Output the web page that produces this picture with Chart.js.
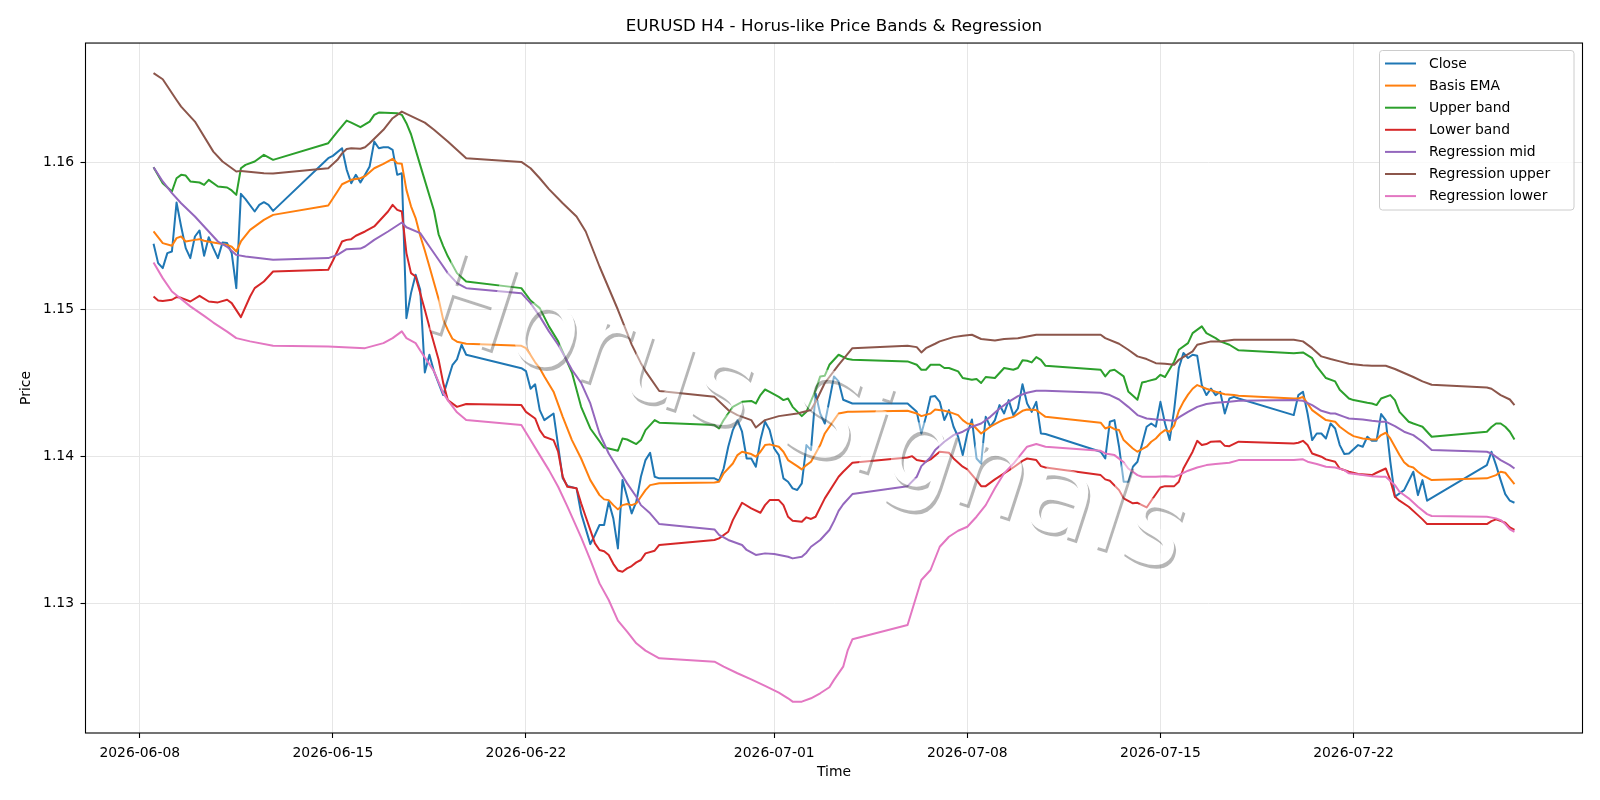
<!DOCTYPE html>
<html><head><meta charset="utf-8">
<script src="https://cdn.jsdelivr.net/npm/chart.js@4.4.1/dist/chart.umd.min.js"></script>
<style>html,body{margin:0;padding:0;background:#fff}canvas{display:block}</style>
</head><body>
<canvas id="c" width="1600" height="800"></canvas>
<script>
const chartTitle = "EURUSD H4 - Horus-like Price Bands & Regression";
const xAxisTitle = "Time";
const yAxisTitle = "Price";
const watermarkText = "Horus Signals";
const xTickDates = ["06-08 00","06-15 00","06-22 00","07-01 00","07-08 00","07-15 00","07-22 00"];
const xTickLabels = ["2026-06-08","2026-06-15","2026-06-22","2026-07-01","2026-07-08","2026-07-15","2026-07-22"];
const yTickValues = [1.13, 1.14, 1.15, 1.16];
const yLimits = [1.1212, 1.1681];
const seriesNames = ["Close","Basis EMA","Upper band","Lower band","Regression mid","Regression upper","Regression lower"];
const seriesColors = ["#1f77b4","#ff7f0e","#2ca02c","#d62728","#9467bd","#8c564b","#e377c2"];

const closeSeries = [["06-08 12",1.15445],["06-08 16",1.15314],["06-08 20",1.1528],["06-09 00",1.15382],["06-09 04",1.15393],["06-09 08",1.15726],["06-09 12",1.15563],["06-09 16",1.15416],["06-09 20",1.15348],["06-10 00",1.15495],["06-10 04",1.15536],["06-10 08",1.15364],["06-10 12",1.1549],["06-10 16",1.15416],["06-10 20",1.15348],["06-11 00",1.15454],["06-11 04",1.1545],["06-11 08",1.15382],["06-11 12",1.15144],["06-11 16",1.15785],["06-11 20",1.15749],["06-12 04",1.15665],["06-12 08",1.1571],["06-12 12",1.15728],["06-12 16",1.1571],["06-12 20",1.15669],
["06-14 20",1.16027],["06-15 00",1.16043],["06-15 08",1.16095],["06-15 12",1.1595],["06-15 16",1.15857],["06-15 20",1.15914],["06-16 00",1.15862],["06-16 04",1.15914],["06-16 08",1.15971],["06-16 12",1.1614],["06-16 16",1.16095],["06-16 20",1.16102],["06-17 00",1.16102],["06-17 04",1.16084],["06-17 08",1.15914],["06-17 12",1.15925],["06-17 16",1.1494],["06-17 20",1.1511],["06-18 00",1.15235],["06-18 04",1.15133],["06-18 08",1.14571],["06-18 12",1.14691],["06-18 16",1.14578],["06-19 00",1.14417],["06-19 08",1.1462],["06-19 12",1.1466],["06-19 16",1.14759],["06-19 20",1.14691],
["06-21 20",1.146],["06-22 00",1.1458],["06-22 04",1.1446],["06-22 08",1.1449],["06-22 12",1.14315],["06-22 16",1.14247],["06-23 00",1.14292],["06-23 08",1.13851],["06-23 12",1.138],["06-23 20",1.13783],["06-24 00",1.13613],["06-24 08",1.13404],["06-24 12",1.13466],["06-24 16",1.13534],["06-24 20",1.13534],["06-25 00",1.13692],["06-25 04",1.13579],["06-25 08",1.13375],["06-25 12",1.13839],["06-25 16",1.13726],["06-25 20",1.13613],["06-26 00",1.13692],["06-26 04",1.13862],["06-26 08",1.13975],["06-26 12",1.14025],["06-26 16",1.13862],["06-26 20",1.13851],
["06-28 20",1.13851],["06-29 00",1.13835],["06-29 04",1.13918],["06-29 08",1.14066],["06-29 12",1.14179],["06-29 16",1.14247],["06-29 20",1.14168],["06-30 00",1.13986],["06-30 04",1.13986],["06-30 08",1.1393],["06-30 12",1.14111],["06-30 16",1.14236],["06-30 20",1.14179],["07-01 00",1.14054],["07-01 04",1.14009],["07-01 08",1.13851],["07-01 12",1.13828],["07-01 16",1.13783],["07-01 20",1.13772],["07-02 00",1.13817],["07-02 04",1.14077],["07-02 08",1.14043],["07-02 12",1.14428],["07-02 16",1.14292],["07-02 20",1.14224],["07-03 00",1.14383],["07-03 04",1.14544],["07-03 08",1.1451],["07-03 12",1.14385],["07-03 20",1.1436],
["07-05 20",1.1436],["07-06 04",1.14303],["07-06 08",1.14156],["07-06 12",1.14269],["07-06 16",1.14405],["07-06 20",1.1441],["07-07 00",1.14371],["07-07 04",1.14247],["07-07 08",1.14315],["07-07 12",1.14202],["07-07 16",1.14134],["07-07 20",1.14009],["07-08 00",1.14156],["07-08 04",1.14251],["07-08 08",1.13986],["07-08 12",1.13952],["07-08 16",1.14269],["07-08 20",1.14202],["07-09 00",1.14247],["07-09 04",1.14349],["07-09 08",1.14292],["07-09 12",1.14383],["07-09 16",1.14281],["07-09 20",1.14326],["07-10 00",1.14491],["07-10 04",1.1436],["07-10 08",1.14303],["07-10 12",1.14371],["07-10 16",1.14156],["07-10 20",1.14152],
["07-12 20",1.14032],["07-13 00",1.13986],["07-13 04",1.14236],["07-13 08",1.14247],["07-13 12",1.14066],["07-13 16",1.13828],["07-13 20",1.13828],["07-14 00",1.1393],["07-14 04",1.13964],["07-14 12",1.14202],["07-14 16",1.14224],["07-14 20",1.14202],["07-15 00",1.14371],["07-15 04",1.14224],["07-15 08",1.14111],["07-15 12",1.1432],["07-15 16",1.146],["07-15 20",1.14703],["07-16 00",1.14669],["07-16 04",1.14691],["07-16 08",1.14684],["07-16 12",1.14485],["07-16 16",1.14417],["07-16 20",1.14462],["07-17 00",1.14417],["07-17 04",1.1444],["07-17 08",1.14292],["07-17 12",1.14394],["07-17 16",1.14405],["07-17 20",1.14394],
["07-19 20",1.14281],["07-20 00",1.14417],["07-20 04",1.1444],["07-20 08",1.14292],["07-20 12",1.14111],["07-20 16",1.14156],["07-20 20",1.14156],["07-21 00",1.14122],["07-21 04",1.14224],["07-21 08",1.1419],["07-21 12",1.14077],["07-21 16",1.14016],["07-21 20",1.1402],["07-22 04",1.14077],["07-22 08",1.14066],["07-22 12",1.14134],["07-22 16",1.14106],["07-22 20",1.14106],["07-23 00",1.14288],["07-23 04",1.14247],["07-23 08",1.13964],["07-23 12",1.13726],["07-23 16",1.13749],["07-23 20",1.13771],["07-24 04",1.13896],["07-24 08",1.13737],["07-24 12",1.13839],["07-24 16",1.13699],
["07-26 20",1.13941],["07-27 00",1.14032],["07-27 04",1.13941],["07-27 08",1.13839],["07-27 12",1.13744],["07-27 16",1.13699],["07-27 20",1.13685]];

const basisEma = [["06-08 12",1.15529],["06-08 20",1.1545],["06-09 04",1.15432],["06-09 08",1.15484],["06-09 12",1.15495],["06-09 16",1.15461],["06-10 00",1.15472],["06-10 04",1.15477],["06-10 08",1.15466],["06-10 16",1.15454],["06-11 04",1.15438],["06-11 08",1.15425],["06-11 12",1.15393],["06-11 16",1.15461],["06-12 00",1.1554],["06-12 12",1.15608],["06-12 20",1.15642],
["06-14 20",1.15706],["06-15 04",1.15801],["06-15 08",1.1585],["06-15 16",1.1588],["06-16 00",1.15891],["06-16 04",1.15905],["06-16 12",1.15959],["06-16 20",1.15989],["06-17 04",1.16023],["06-17 08",1.15993],["06-17 12",1.15989],["06-17 16",1.15812],["06-17 20",1.157],["06-18 00",1.1562],["06-18 04",1.155],["06-18 08",1.154],["06-18 12",1.15291],["06-18 16",1.1518],["06-18 20",1.1507],["06-19 00",1.1493],["06-19 04",1.1486],["06-19 08",1.148],["06-19 12",1.1478],["06-19 20",1.14766],
["06-21 20",1.14752],["06-22 00",1.14736],["06-22 04",1.1469],["06-22 08",1.1464],["06-22 12",1.146],["06-22 16",1.14544],["06-23 00",1.1444],["06-23 08",1.14269],["06-23 16",1.14111],["06-24 00",1.13986],["06-24 08",1.13839],["06-24 16",1.13737],["06-24 20",1.13708],["06-25 00",1.13703],["06-25 04",1.13669],["06-25 08",1.1364],["06-25 12",1.13669],["06-25 16",1.13676],["06-25 20",1.13669],["06-26 00",1.13681],["06-26 04",1.13726],["06-26 08",1.13771],["06-26 12",1.13805],["06-26 20",1.13817],
["06-28 20",1.13823],["06-29 00",1.13828],["06-29 04",1.13885],["06-29 12",1.13952],["06-29 16",1.14009],["06-29 20",1.14032],["06-30 04",1.14016],["06-30 08",1.13998],["06-30 12",1.14032],["06-30 16",1.14077],["06-30 20",1.14082],["07-01 04",1.14066],["07-01 08",1.14032],["07-01 12",1.13975],["07-01 20",1.13934],["07-02 00",1.13912],["07-02 04",1.13941],["07-02 08",1.13964],["07-02 16",1.14077],["07-02 20",1.14156],["07-03 04",1.14247],["07-03 08",1.14292],["07-03 16",1.14303],["07-03 20",1.14303],
["07-05 20",1.1431],["07-06 04",1.14292],["07-06 08",1.14274],["07-06 16",1.14292],["07-06 20",1.14319],["07-07 04",1.1431],["07-07 08",1.14303],["07-07 16",1.14281],["07-07 20",1.14247],["07-08 00",1.14224],["07-08 04",1.1422],["07-08 12",1.14156],["07-08 16",1.14179],["07-08 20",1.14202],["07-09 04",1.14236],["07-09 08",1.14251],["07-09 16",1.14269],["07-10 00",1.1431],["07-10 04",1.14319],["07-10 12",1.14315],["07-10 16",1.14292],["07-10 20",1.14269],
["07-12 20",1.14229],["07-13 00",1.1419],["07-13 04",1.14202],["07-13 08",1.14185],["07-13 12",1.14179],["07-13 16",1.14111],["07-14 00",1.14054],["07-14 04",1.14032],["07-14 12",1.14066],["07-14 16",1.141],["07-14 20",1.14122],["07-15 00",1.14156],["07-15 04",1.14179],["07-15 08",1.14168],["07-15 12",1.1421],["07-15 16",1.1431],["07-15 20",1.14371],["07-16 00",1.1442],["07-16 04",1.1446],["07-16 08",1.14485],["07-16 12",1.14473],["07-16 16",1.1446],["07-17 00",1.1444],["07-17 08",1.14423],["07-17 16",1.14417],["07-17 20",1.14412],
["07-19 20",1.14394],["07-20 00",1.14394],["07-20 04",1.14405],["07-20 08",1.1436],["07-20 12",1.14315],["07-20 20",1.14269],["07-21 00",1.14247],["07-21 08",1.14236],["07-21 12",1.14202],["07-21 20",1.14156],["07-22 00",1.14138],["07-22 08",1.14122],["07-22 16",1.14115],["07-22 20",1.14115],["07-23 00",1.14145],["07-23 04",1.14161],["07-23 08",1.14122],["07-23 12",1.14066],["07-23 16",1.1401],["07-23 20",1.1396],["07-24 00",1.13934],["07-24 04",1.13925],["07-24 08",1.13896],["07-24 12",1.13873],["07-24 20",1.13839],
["07-26 20",1.13851],["07-27 04",1.13873],["07-27 08",1.13896],["07-27 12",1.13889],["07-27 16",1.13851],["07-27 20",1.13812]];

const upperBand = [["06-08 12",1.15966],["06-08 20",1.15857],["06-09 04",1.15801],["06-09 08",1.15891],["06-09 12",1.15914],["06-09 16",1.15909],["06-09 20",1.15869],["06-10 04",1.15862],["06-10 08",1.15846],["06-10 12",1.1588],["06-10 20",1.15835],["06-11 04",1.15828],["06-11 08",1.15808],["06-11 12",1.15778],["06-11 16",1.15959],["06-11 20",1.15982],["06-12 04",1.16005],["06-12 12",1.1605],["06-12 20",1.16016],
["06-14 20",1.16129],["06-15 04",1.16208],["06-15 12",1.16283],["06-15 16",1.16269],["06-16 00",1.16238],["06-16 08",1.16276],["06-16 12",1.16322],["06-16 16",1.16337],["06-17 08",1.16333],["06-17 12",1.16322],["06-17 16",1.16265],["06-17 20",1.1619],["06-18 04",1.1598],["06-18 16",1.1567],["06-18 20",1.1551],["06-19 00",1.1543],["06-19 04",1.1536],["06-19 12",1.15246],["06-19 20",1.15189],
["06-21 20",1.15144],["06-22 04",1.1506],["06-22 12",1.15008],["06-22 20",1.14884],["06-23 04",1.14782],["06-23 16",1.1457],["06-24 00",1.14337],["06-24 08",1.1419],["06-24 20",1.1406],["06-25 00",1.14054],["06-25 08",1.14039],["06-25 12",1.14122],["06-25 16",1.14115],["06-26 00",1.14084],["06-26 04",1.14111],["06-26 08",1.14179],["06-26 16",1.14247],["06-26 20",1.14229],
["06-28 20",1.14213],["06-29 00",1.1419],["06-29 04",1.14247],["06-29 12",1.14337],["06-29 20",1.14371],["06-30 04",1.14377],["06-30 08",1.1436],["06-30 12",1.14417],["06-30 16",1.14455],["06-30 20",1.14439],["07-01 04",1.14405],["07-01 08",1.14383],["07-01 12",1.14394],["07-01 16",1.14337],["07-02 00",1.14274],["07-02 04",1.14303],["07-02 12",1.14451],["07-02 16",1.14544],["07-02 20",1.14549],["07-03 00",1.14623],["07-03 08",1.14691],["07-03 16",1.14662],["07-03 20",1.14657],
["07-05 20",1.14646],["07-06 04",1.14623],["07-06 08",1.14589],["07-06 12",1.14589],["07-06 16",1.14623],["07-07 00",1.14623],["07-07 04",1.14601],["07-07 08",1.14601],["07-07 16",1.14578],["07-07 20",1.14533],["07-08 04",1.14521],["07-08 08",1.14526],["07-08 12",1.14499],["07-08 16",1.1454],["07-09 00",1.14533],["07-09 04",1.14567],["07-09 08",1.14601],["07-09 16",1.14589],["07-09 20",1.14601],["07-10 00",1.14653],["07-10 04",1.1465],["07-10 08",1.14639],["07-10 12",1.14675],["07-10 16",1.14657],["07-10 20",1.14616],
["07-12 20",1.14589],["07-13 00",1.14544],["07-13 04",1.14582],["07-13 08",1.14589],["07-13 16",1.14544],["07-13 20",1.14442],["07-14 04",1.14385],["07-14 08",1.14503],["07-14 12",1.1451],["07-14 20",1.14526],["07-15 00",1.14555],["07-15 04",1.1454],["07-15 12",1.14646],["07-15 16",1.14725],["07-16 00",1.1477],["07-16 04",1.14838],["07-16 12",1.14884],["07-16 16",1.14838],["07-17 00",1.14804],["07-17 04",1.14782],["07-17 12",1.14759],["07-17 20",1.14721],
["07-19 20",1.14702],["07-20 04",1.14707],["07-20 12",1.14668],["07-20 16",1.14612],["07-21 00",1.14533],["07-21 08",1.1451],["07-21 12",1.14453],["07-21 20",1.14394],["07-22 00",1.14383],["07-22 12",1.14365],["07-22 16",1.1436],["07-22 20",1.14349],["07-23 00",1.14394],["07-23 08",1.14417],["07-23 12",1.14383],["07-23 16",1.14303],["07-24 00",1.14236],["07-24 04",1.14224],["07-24 08",1.14213],["07-24 12",1.14202],["07-24 16",1.14168],["07-24 20",1.14134],
["07-26 20",1.14168],["07-27 00",1.142],["07-27 04",1.14224],["07-27 08",1.14224],["07-27 12",1.14202],["07-27 16",1.14168],["07-27 20",1.14115]];

const lowerBand = [["06-08 12",1.15087],["06-08 16",1.1506],["06-08 20",1.15056],["06-09 04",1.15065],["06-09 08",1.15083],["06-09 12",1.15078],["06-09 20",1.15053],["06-10 04",1.15092],["06-10 12",1.15053],["06-10 20",1.15047],["06-11 04",1.15065],["06-11 08",1.15042],["06-11 16",1.14947],["06-12 00",1.15087],["06-12 04",1.15144],["06-12 12",1.15189],["06-12 20",1.15257],
["06-14 20",1.15269],["06-15 00",1.1533],["06-15 08",1.15461],["06-15 12",1.15472],["06-15 16",1.15477],["06-15 20",1.155],["06-16 04",1.15529],["06-16 12",1.15563],["06-16 16",1.15597],["06-17 00",1.15665],["06-17 04",1.1571],["06-17 08",1.15676],["06-17 12",1.15665],["06-17 16",1.15382],["06-17 20",1.15246],["06-18 00",1.15223],["06-18 08",1.14997],["06-18 12",1.1488],["06-18 20",1.14657],["06-19 00",1.145],["06-19 04",1.14383],["06-19 12",1.14337],["06-19 20",1.14356],
["06-21 20",1.14349],["06-22 00",1.14303],["06-22 08",1.14258],["06-22 12",1.14179],["06-22 16",1.14134],["06-23 00",1.14111],["06-23 04",1.14032],["06-23 08",1.13862],["06-23 12",1.13794],["06-23 20",1.13783],["06-24 00",1.13681],["06-24 04",1.1359],["06-24 12",1.13409],["06-24 16",1.13364],["06-24 20",1.13355],["06-25 00",1.1333],["06-25 04",1.1327],["06-25 08",1.13225],["06-25 12",1.13216],["06-25 16",1.13239],["06-25 20",1.13255],["06-26 00",1.1328],["06-26 04",1.13296],["06-26 08",1.13341],["06-26 16",1.13359],["06-26 20",1.13398],
["06-28 20",1.13432],["06-29 00",1.13443],["06-29 08",1.13488],["06-29 12",1.13567],["06-29 20",1.13685],["06-30 04",1.13647],["06-30 12",1.13617],["06-30 16",1.13669],["06-30 20",1.13703],["07-01 04",1.13703],["07-01 08",1.13669],["07-01 12",1.1359],["07-01 16",1.13563],["07-02 00",1.13556],["07-02 04",1.13586],["07-02 08",1.13575],["07-02 12",1.1359],["07-02 20",1.13715],["07-03 08",1.13862],["07-03 12",1.13896],["07-03 20",1.13957],
["07-05 20",1.13993],["07-06 00",1.14002],["07-06 04",1.13975],["07-06 12",1.13964],["07-06 16",1.1398],["07-07 00",1.14032],["07-07 08",1.14025],["07-07 12",1.13986],["07-07 20",1.1393],["07-08 00",1.13912],["07-08 08",1.13839],["07-08 12",1.13798],["07-08 16",1.13798],["07-09 00",1.13844],["07-09 08",1.13885],["07-09 16",1.13925],["07-10 00",1.1397],["07-10 04",1.13986],["07-10 12",1.13975],["07-10 16",1.13934],["07-10 20",1.13925],
["07-12 20",1.13873],["07-13 00",1.13844],["07-13 04",1.13835],["07-13 12",1.13771],["07-13 16",1.13715],["07-14 00",1.13681],["07-14 04",1.13685],["07-14 08",1.13669],["07-14 12",1.13653],["07-14 16",1.13699],["07-15 00",1.13789],["07-15 04",1.13798],["07-15 12",1.13798],["07-15 16",1.13828],["07-15 20",1.13918],["07-16 04",1.14032],["07-16 08",1.14106],["07-16 12",1.14077],["07-16 16",1.14084],["07-16 20",1.141],["07-17 04",1.14104],["07-17 08",1.14072],["07-17 12",1.1407],["07-17 20",1.141],
["07-19 20",1.14088],["07-20 00",1.14093],["07-20 04",1.14106],["07-20 08",1.14077],["07-20 12",1.1402],["07-20 20",1.13998],["07-21 00",1.1398],["07-21 08",1.13964],["07-21 12",1.13918],["07-21 20",1.13896],["07-22 04",1.1388],["07-22 16",1.13873],["07-22 20",1.13889],["07-23 04",1.13918],["07-23 08",1.13839],["07-23 12",1.13726],["07-23 16",1.13699],["07-24 00",1.13658],["07-24 08",1.13601],["07-24 12",1.13572],["07-24 16",1.1354],["07-24 20",1.1354],
["07-26 20",1.1354],["07-27 00",1.1356],["07-27 04",1.13572],["07-27 12",1.1355],["07-27 16",1.13518],["07-27 20",1.135]];

const regMid = [["06-08 12",1.15966],["06-08 20",1.15869],["06-09 04",1.1579],["06-09 12",1.15721],["06-10 00",1.15631],["06-10 12",1.15529],["06-10 20",1.15461],["06-11 04",1.15425],["06-11 12",1.1537],["06-11 20",1.15359],["06-12 20",1.15337],
["06-14 20",1.15348],["06-15 04",1.1537],["06-15 12",1.15409],["06-16 00",1.15413],["06-16 04",1.15427],["06-16 12",1.15472],["06-17 00",1.15529],["06-17 12",1.1559],["06-17 16",1.15558],["06-18 04",1.15518],["06-18 12",1.15427],["06-18 20",1.15337],["06-19 04",1.15246],["06-19 12",1.15178],["06-19 20",1.15144],
["06-21 20",1.1511],["06-22 04",1.15042],["06-22 12",1.14952],["06-22 20",1.1485],["06-23 04",1.14759],["06-23 16",1.14589],["06-24 00",1.145],["06-24 08",1.1436],["06-24 16",1.14156],["06-25 00",1.1402],["06-25 08",1.13918],["06-25 16",1.13817],["06-26 00",1.13726],["06-26 04",1.13669],["06-26 12",1.13613],["06-26 20",1.1354],
["06-28 20",1.13504],["06-29 00",1.13466],["06-29 08",1.13432],["06-29 20",1.13398],["06-30 00",1.13364],["06-30 08",1.1333],["06-30 16",1.13341],["07-01 00",1.13337],["07-01 12",1.13318],["07-01 16",1.13307],["07-02 00",1.13318],["07-02 04",1.13346],["07-02 08",1.13386],["07-02 16",1.13432],["07-03 00",1.135],["07-03 04",1.1356],["07-03 08",1.1363],["07-03 12",1.13675],["07-03 20",1.13744],
["07-05 20",1.13798],["07-06 04",1.13862],["07-06 08",1.13934],["07-06 16",1.13995],["07-06 20",1.14043],["07-07 04",1.141],["07-07 12",1.14145],["07-07 20",1.14168],["07-08 04",1.14202],["07-08 12",1.14224],["07-08 20",1.14269],["07-09 04",1.14326],["07-09 12",1.14371],["07-09 20",1.1441],["07-10 04",1.14433],["07-10 12",1.14446],["07-10 20",1.14446],
["07-12 20",1.14433],["07-13 04",1.14417],["07-13 12",1.14387],["07-13 20",1.14337],["07-14 04",1.14281],["07-14 12",1.14258],["07-14 20",1.14251],["07-15 04",1.14247],["07-15 12",1.14242],["07-15 16",1.14265],["07-16 00",1.14303],["07-16 08",1.14337],["07-16 16",1.14356],["07-17 00",1.14365],["07-17 12",1.14371],["07-17 20",1.14378],
["07-19 20",1.14383],["07-20 04",1.14378],["07-20 12",1.14349],["07-20 20",1.1431],["07-21 04",1.14292],["07-21 08",1.14292],["07-21 16",1.14269],["07-21 20",1.14258],["07-22 08",1.14251],["07-22 16",1.14242],["07-23 00",1.14236],["07-23 04",1.14236],["07-23 12",1.14206],["07-23 20",1.14168],["07-24 04",1.14145],["07-24 12",1.141],["07-24 20",1.14043],
["07-26 20",1.14032],["07-27 00",1.1402],["07-27 08",1.13975],["07-27 16",1.13941],["07-27 20",1.13918]];

const regUpper = [["06-08 12",1.16605],["06-08 20",1.16564],["06-09 08",1.16423],["06-09 12",1.16378],["06-10 00",1.16276],["06-10 16",1.16072],["06-11 00",1.16005],["06-11 12",1.15937],["06-11 16",1.15941],["06-12 12",1.15925],["06-12 20",1.15923],
["06-14 20",1.15959],["06-15 04",1.16016],["06-15 08",1.1606],["06-15 12",1.1609],["06-15 16",1.16095],["06-16 00",1.16091],["06-16 04",1.16102],["06-16 08",1.16129],["06-16 20",1.1622],["06-17 04",1.16299],["06-17 12",1.16344],["06-17 16",1.16328],["06-18 08",1.16269],["06-18 16",1.1622],["06-19 04",1.1614],["06-19 20",1.16027],
["06-21 20",1.16002],["06-22 04",1.15959],["06-22 12",1.15891],["06-22 20",1.15817],["06-23 08",1.15721],["06-23 20",1.15631],["06-24 04",1.15529],["06-24 16",1.15291],["06-25 08",1.14997],["06-25 16",1.1484],["06-25 20",1.1476],["06-26 04",1.14634],["06-26 08",1.1458],["06-26 20",1.14445],
["06-28 20",1.14405],["06-29 08",1.14315],["06-29 16",1.14281],["06-30 04",1.14247],["06-30 08",1.14197],["06-30 16",1.14247],["07-01 04",1.14274],["07-01 20",1.14292],["07-02 08",1.14315],["07-02 12",1.1437],["07-02 20",1.14499],["07-03 08",1.14623],["07-03 20",1.14736],
["07-05 20",1.14752],["07-06 04",1.14743],["07-06 08",1.14707],["07-06 12",1.14736],["07-06 20",1.14766],["07-07 00",1.14782],["07-07 12",1.14811],["07-07 20",1.1482],["07-08 04",1.14827],["07-08 12",1.14798],["07-09 00",1.14788],["07-09 08",1.14798],["07-09 20",1.14804],["07-10 12",1.14827],["07-10 20",1.14827],
["07-12 20",1.14827],["07-13 00",1.14804],["07-13 12",1.14766],["07-13 20",1.14725],["07-14 04",1.1468],["07-14 12",1.14662],["07-14 20",1.14634],["07-15 04",1.1463],["07-15 12",1.14623],["07-15 16",1.14657],["07-16 04",1.14714],["07-16 08",1.14759],["07-16 20",1.14782],["07-17 04",1.14782],["07-17 16",1.14793],["07-17 20",1.14793],
["07-19 20",1.14793],["07-20 04",1.14782],["07-20 12",1.14736],["07-20 20",1.1468],["07-21 04",1.14662],["07-21 12",1.14646],["07-21 20",1.1463],["07-22 08",1.14619],["07-22 16",1.14616],["07-23 04",1.14616],["07-23 12",1.14594],["07-23 20",1.14567],["07-24 04",1.1454],["07-24 12",1.1451],["07-24 20",1.14487],
["07-26 20",1.14469],["07-27 00",1.1446],["07-27 08",1.14417],["07-27 16",1.14387],["07-27 20",1.14349]];

const regLower = [["06-08 12",1.15318],["06-08 20",1.15212],["06-09 04",1.15121],["06-09 08",1.15095],["06-09 20",1.1502],["06-10 08",1.14955],["06-10 16",1.1491],["06-11 04",1.14848],["06-11 12",1.14804],["06-12 00",1.14782],["06-12 20",1.14752],
["06-14 20",1.14748],["06-16 04",1.14736],["06-16 20",1.1477],["06-17 04",1.14804],["06-17 12",1.1485],["06-17 16",1.14804],["06-18 00",1.1477],["06-18 04",1.1472],["06-18 16",1.1458],["06-19 00",1.1443],["06-19 04",1.14383],["06-19 12",1.143],["06-19 20",1.14247],
["06-21 20",1.14213],["06-22 04",1.14111],["06-22 12",1.14009],["06-22 20",1.13907],["06-23 04",1.13794],["06-23 12",1.1366],["06-24 00",1.1345],["06-24 08",1.13296],["06-24 16",1.13137],["06-25 00",1.13024],["06-25 08",1.12884],["06-25 16",1.12809],["06-26 00",1.1273],["06-26 08",1.1268],["06-26 20",1.12628],
["06-28 20",1.12605],["06-29 04",1.12571],["06-29 16",1.12526],["06-30 04",1.12485],["06-30 16",1.1244],["07-01 04",1.12394],["07-01 12",1.12356],["07-01 16",1.12333],["07-02 00",1.12333],["07-02 08",1.12356],["07-02 16",1.1239],["07-03 00",1.12431],["07-03 04",1.12481],["07-03 12",1.12571],["07-03 16",1.12684],["07-03 20",1.12757],
["07-05 20",1.12854],["07-06 00",1.12956],["07-06 08",1.1316],["07-06 16",1.13228],["07-07 00",1.13386],["07-07 08",1.13454],["07-07 16",1.13495],["07-08 00",1.13522],["07-08 08",1.1359],["07-08 16",1.13669],["07-09 00",1.13783],["07-09 08",1.13885],["07-09 16",1.1395],["07-10 04",1.14066],["07-10 12",1.14084],["07-10 20",1.14066],
["07-12 20",1.14038],["07-13 00",1.1402],["07-13 08",1.14009],["07-13 16",1.1396],["07-13 20",1.13918],["07-14 04",1.13873],["07-14 08",1.13862],["07-14 20",1.13862],["07-15 04",1.13866],["07-15 12",1.13862],["07-15 16",1.13873],["07-16 00",1.13903],["07-16 08",1.13925],["07-16 16",1.13941],["07-17 00",1.13948],["07-17 12",1.13957],["07-17 20",1.13975],
["07-19 20",1.13975],["07-20 04",1.1398],["07-20 08",1.13964],["07-20 16",1.13948],["07-21 00",1.1393],["07-21 08",1.13925],["07-21 16",1.13907],["07-21 20",1.13885],["07-22 08",1.13873],["07-22 16",1.13866],["07-23 00",1.13862],["07-23 04",1.13862],["07-23 12",1.13805],["07-23 16",1.1376],["07-24 00",1.13715],["07-24 08",1.13658],["07-24 16",1.13608],["07-24 20",1.13595],
["07-26 20",1.1359],["07-27 04",1.13579],["07-27 08",1.13567],["07-27 12",1.1354],["07-27 16",1.13505],["07-27 20",1.13488]];

const FONT = "'DejaVu Sans', sans-serif";
// time label "MM-DD HH" (2026) -> days since 2026-06-08 00:00
function toDay(t){
  const [md, h] = t.split(' ');
  const [m, d] = md.split('-').map(Number);
  const base = (m === 6) ? d - 8 : 22 + d;
  return base + Number(h) / 24;
}
const seriesList = [closeSeries, basisEma, upperBand, lowerBand, regMid, regUpper, regLower];
const allDays = seriesList.flat().map(p => toDay(p[0]));
const dMin = Math.min(...allDays), dMax = Math.max(...allDays), dSpan = dMax - dMin;

const datasets = seriesList.map((arr, i) => ({
  label: seriesNames[i],
  data: arr.map(([t, v]) => ({x: toDay(t), y: v})),
  borderColor: seriesColors[i],
  backgroundColor: seriesColors[i],
  borderWidth: 2,
  borderJoinStyle: 'round',
  pointRadius: 0,
  fill: false,
  tension: 0,
  order: 10 - i
}));

const overlayPlugin = {
  id: 'overlay',
  afterDatasetsDraw(chart){
    const {ctx, chartArea: a} = chart;
    // watermark layer
    const off = document.createElement('canvas');
    off.width = chart.width; off.height = chart.height;
    const o = off.getContext('2d');
    o.translate(805, 420);
    o.rotate(18 * Math.PI / 180);
    o.font = `116px ${FONT}`;
    o.textAlign = 'center'; o.textBaseline = 'middle';
    o.fillStyle = '#5e5e5e';
    o.fillText(watermarkText, 3, 3);
    o.fillStyle = '#ffffff';
    o.fillText(watermarkText, 0, 0);
    ctx.save();
    ctx.globalAlpha = 0.45;
    ctx.drawImage(off, 0, 0);
    ctx.restore();
    // axes frame
    ctx.save();
    ctx.strokeStyle = '#000'; ctx.lineWidth = 1.1;
    ctx.strokeRect(a.left, a.top, a.right - a.left, a.bottom - a.top);
    ctx.restore();
    // legend
    ctx.save();
    ctx.beginPath();
    ctx.roundRect(1379.5, 50.5, 194.5, 159.5, 3);
    ctx.fillStyle = 'rgba(255,255,255,0.8)'; ctx.fill();
    ctx.strokeStyle = '#cccccc'; ctx.lineWidth = 1; ctx.stroke();
    ctx.font = `13.9px ${FONT}`; ctx.textAlign = 'left'; ctx.textBaseline = 'middle';
    chart.data.datasets.forEach((ds, i) => {
      const y = 63.5 + 22.1 * i;
      ctx.beginPath(); ctx.moveTo(1385, y); ctx.lineTo(1416, y);
      ctx.strokeStyle = ds.borderColor; ctx.lineWidth = 2; ctx.stroke();
      ctx.fillStyle = '#000'; ctx.fillText(ds.label, 1429, y + 0.5);
    });
    ctx.restore();
  }
};

new Chart(document.getElementById('c'), {
  type: 'line',
  data: {datasets},
  options: {
    responsive: false, animation: false, devicePixelRatio: 1,
    layout: {padding: {left: 0, right: 17.5, top: 0, bottom: 0}},
    plugins: {
      legend: {display: false},
      tooltip: {enabled: false},
      title: {display: true, text: chartTitle, fullSize: false, color: '#000',
        font: {family: FONT, size: 16.7, weight: 'normal'}, padding: {top: 17, bottom: 6}}
    },
    scales: {
      x: {
        type: 'linear', min: dMin - 0.05 * dSpan, max: dMax + 0.05 * dSpan,
        afterBuildTicks: s => { s.ticks = xTickDates.map(t => ({value: toDay(t)})); },
        afterFit: s => { s.height = 67; },
        ticks: {autoSkip: false, maxRotation: 0, minRotation: 0, color: '#000', padding: 7,
          font: {family: FONT, size: 13.9}, callback: (v, i) => xTickLabels[i]},
        grid: {color: '#e6e6e6', lineWidth: 1, drawTicks: true, tickLength: 5, tickColor: '#000', tickWidth: 1.1},
        border: {display: false},
        title: {display: true, text: xAxisTitle, color: '#000', font: {family: FONT, size: 13.9}, padding: {top: 0, bottom: 19.5}}
      },
      y: {
        type: 'linear', min: yLimits[0], max: yLimits[1],
        afterBuildTicks: s => { s.ticks = yTickValues.map(v => ({value: v})); },
        afterFit: s => { s.width = 85.5; },
        ticks: {color: '#000', padding: 6.5, font: {family: FONT, size: 13.9}, callback: v => Number(v).toFixed(2)},
        grid: {color: '#e6e6e6', lineWidth: 1, drawTicks: true, tickLength: 5, tickColor: '#000', tickWidth: 1.1},
        border: {display: false},
        title: {display: true, text: yAxisTitle, color: '#000', font: {family: FONT, size: 13.9}, padding: {top: 18.2, bottom: 0}}
      }
    }
  },
  plugins: [overlayPlugin]
});
</script>
</body></html>
